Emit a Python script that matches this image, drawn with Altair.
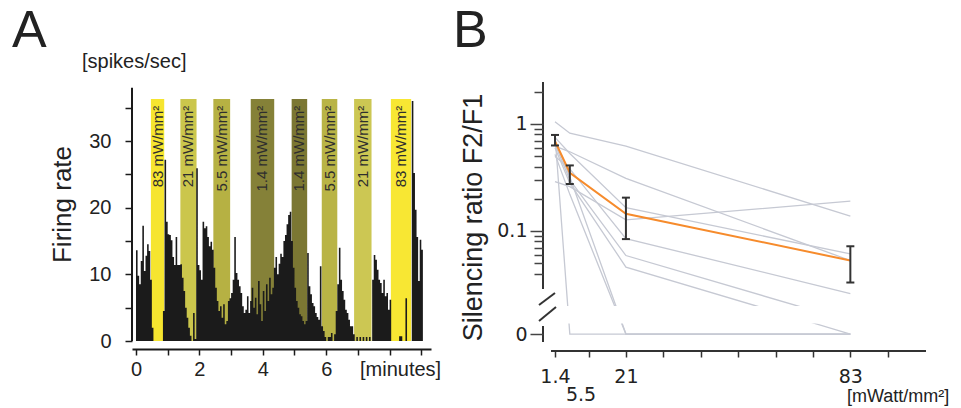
import altair as alt
import pandas as pd
import numpy as np

# ---------------- Panel A: firing-rate histogram ----------------
BIN_WIDTH = 0.05  # minutes per bin
FIRING_RATE = [
    13.6, 9.8, 8.5, 12.0, 17.3, 10.5, 12.8, 14.5, 13.5, 9.2,
    2.0, 0, 0, 0, 0, 0, 0, 4.5,
    27.2, 17.9, 16.0, 15.9, 15.1, 12.6, 11.4, 15.6, 11.4, 11.4,
    11.5, 9.5, 7.5, 5.0, 3.5, 2.0, 0.8, 0, 4.2, 0.3,
    25.9, 11.4, 10.6, 9.2, 17.9, 16.9, 17.2, 15.6, 14.2, 14.9, 13.7,
    11.0, 8.0, 6.0, 4.5, 5.2, 3.5, 5.5, 2.5, 3.0, 6.0,
    6.4, 7.2, 9.2, 15.6, 10.2, 9.2, 8.2, 7.2, 5.2, 4.2, 4.7, 6.7, 4.2,
    6.0, 8.0, 5.0, 6.5, 4.0, 9.0, 5.5, 3.0, 7.5, 4.5, 8.5, 6.0, 9.5, 7.0, 8.0,
    11.0, 12.6, 10.0, 11.6, 13.1, 12.6, 15.0, 15.9, 17.5, 18.9, 19.4,
    15.0, 11.0, 8.0, 6.0, 5.0, 4.0, 3.7, 3.0, 2.5, 3.0,
    13.2, 8.2, 7.0, 5.7, 5.2, 4.2, 3.6, 3.2, 11.2, 2.2,
    1.5, 0.6, 0, 0.6, 0.6, 1.2, 0, 1.0, 4.5,
    8.5, 14.0, 9.2, 7.5, 6.2, 4.7, 4.2, 3.2, 2.2, 2.2, 1.0,
    0, 0.6, 0, 0.6, 0, 0.6, 0, 0.6, 0, 0.6, 0,
    9.2, 12.9, 12.2, 10.7, 9.2, 8.7, 7.2, 9.2, 6.7, 7.2, 4.7, 6.2,
    0, 0, 0, 0, 0, 0.7, 0.7, 0, 0, 6.4, 0, 0, 0,
    36.0, 25.2, 19.7, 15.6, 9.0, 15.2, 13.7,
]
BAND_START = [0.47, 1.40, 2.44, 3.62, 4.91, 5.86, 6.88, 8.04]
BAND_END = [0.89, 1.91, 2.97, 4.36, 5.40, 6.35, 7.43, 8.68]
BAND_LABEL = ["83 mW/mm²", "21 mW/mm²", "5.5 mW/mm²", "1.4 mW/mm²",
              "1.4 mW/mm²", "5.5 mW/mm²", "21 mW/mm²", "83 mW/mm²"]
BAND_COLOR = ["#f6e52f", "#cbc64c", "#b6b143", "#858138",
              "#7b7733", "#b9b446", "#ccc753", "#f8e733"]
BAND_TOP = 36.3
A_X_TICKS = [0, 1, 2, 3, 4, 5, 6, 7, 8, 9]
A_Y_TICKS = [0, 5, 10, 15, 20, 25, 30, 35]

# ---------------- Panel B: silencing ratio ----------------
INTENSITY = [1.4, 5.5, 21, 83]
CELL_RATIOS = [
    [1.05, 0.82, 0.62, 0.138],
    [0.62, 0.55, 0.31, 0.053],
    [0.75, 0.53, 0.165, 0.061],
    [0.29, 0.26, 0.127, 0.19],
    [0.50, 0.38, 0.085, 0.026],
    [0.65, 0.30, 0.059, 0.0143],
    [0.60, 0.28, 0.046, 0.0],
    [0.70, 0.32, 0.0, 0.0],
    [0.52, 0.22, 0.0, 0.0],
    [0.79, 0.0, 0.0, 0.0],
]
MEAN_RATIO = [0.69, 0.35, 0.145, 0.053]
ERR_LO = [0.63, 0.275, 0.084, 0.033]
ERR_HI = [0.79, 0.41, 0.205, 0.072]
B_X_TICKS = [1.4, 10.67, 21, 31.33, 41.67, 52, 62.33, 72.67, 83, 93.33]
B_Y_TICK_VALUES = [2, 1, 0.9, 0.8, 0.7, 0.6, 0.5, 0.4, 0.3, 0.2,
                   0.1, 0.09, 0.08, 0.07, 0.06, 0.05, 0.04]
ZERO_POS = -1.963  # where "0" sits below the axis break (log10 units)

# ---------------- build tables ----------------
t = [i * BIN_WIDTH for i in range(len(FIRING_RATE))]
hist = pd.DataFrame({"t": t + [len(FIRING_RATE) * BIN_WIDTH],
                     "rate": FIRING_RATE + [FIRING_RATE[-1]]})
bands = pd.DataFrame({"start": BAND_START, "end": BAND_END,
                      "label": BAND_LABEL, "color": BAND_COLOR})
bands["mid"] = (bands["start"] + bands["end"]) / 2
bands["bottom"] = 0.0
bands["top"] = BAND_TOP
bands["labtop"] = 35.3


def to_pos(v):
    return float(np.log10(v)) if v > 0 else ZERO_POS


rows = []
for ci, cell in enumerate(CELL_RATIOS):
    for x, v in zip(INTENSITY, cell):
        rows.append({"cell": ci, "x": x, "y": to_pos(v)})
cells = pd.DataFrame(rows)
mean = pd.DataFrame({"x": INTENSITY,
                     "y": [to_pos(v) for v in MEAN_RATIO],
                     "lo": [to_pos(v) for v in ERR_LO],
                     "hi": [to_pos(v) for v in ERR_HI]})

TXT = "#222222"
AX = "#1a1a1a"
one = alt.Data(values=[{}])


def note(text, x, y, size, font="Liberation Sans", align="left",
         baseline="middle"):
    return alt.Chart(one).mark_text(
        text=text, align=align, baseline=baseline, fontSize=size,
        font=font, color=TXT).encode(x=alt.value(x), y=alt.value(y))


def seg(x, y, x2, y2, w=2, color="#333333"):
    return alt.Chart(one).mark_rule(color=color, strokeWidth=w).encode(
        x=alt.value(x), y=alt.value(y), x2=alt.value(x2), y2=alt.value(y2))


# ---------------- Panel A ----------------
AW, AH = 299, 269
xsA = alt.Scale(domain=[-0.126, 9.306], nice=False, zero=False)
ysA = alt.Scale(domain=[-1.5, 38.85], nice=False, zero=False)
axA_x = alt.Axis(values=A_X_TICKS, title=None, offset=-2, zindex=1,
                 labelExpr="datum.value <= 6 && datum.value % 2 == 0 ? datum.label : ''",
                 labelFont="Liberation Sans", labelFontSize=20, labelColor=TXT,
                 labelPadding=4, tickSize=6, tickWidth=1.5, tickColor=AX,
                 domainColor=AX, domainWidth=2, labelOverlap=False, labelFlush=False)
axA_y = alt.Axis(values=A_Y_TICKS, title="Firing rate", domain=False, zindex=1,
                 labelExpr="datum.value % 10 == 0 ? datum.label : ''",
                 labelFont="Liberation Sans", labelFontSize=20, labelColor=TXT,
                 labelPadding=14, tickSize=7, tickWidth=1.5, tickColor=AX,
                 titleFont="Liberation Sans", titleFontSize=26, titleFontWeight="normal",
                 titleColor=TXT, titleX=-70, titleY=122, titleAngle=270,
                 titleAlign="center", titleBaseline="middle", labelOverlap=False)


def XA(f):
    return alt.X(f, type="quantitative", scale=xsA, axis=axA_x)


def YA(f):
    return alt.Y(f, type="quantitative", scale=ysA, axis=axA_y)


boundsA = alt.Chart(one).mark_rect(color="white", opacity=0, strokeWidth=0).encode(
    x=alt.value(-132), x2=alt.value(829), y=alt.value(-82), y2=alt.value(326))

bandsA = alt.Chart(bands).mark_rect().encode(
    x=XA("start"), x2="end", y=YA("bottom"), y2="top",
    color=alt.Color("color:N", scale=None),
)
histA = alt.Chart(hist).mark_area(interpolate="step-after", color="#1b1b1b").encode(
    x=XA("t"), y=YA("rate"),
)
labelsA = alt.Chart(bands).mark_text(
    angle=270, align="right", baseline="middle", fontSize=15,
    font="Liberation Sans", color="#2e2e2e").encode(
    x=XA("mid"), y=YA("labtop"), text="label:N",
)
yLineA = alt.Chart(pd.DataFrame({"lo": [0.0], "hi": [38.0]})).mark_rule(
    color=AX, strokeWidth=2).encode(x=alt.value(0), y=YA("lo"), y2="hi")

chartA = alt.layer(
    bandsA, histA, labelsA, yLineA, boundsA,
    note("A", -120, -35, 52, baseline="alphabetic"),
    note("[spikes/sec]", -50, -20, 20),
    note("[minutes]", 228, 288, 20),
).properties(width=AW, height=AH)

# ---------------- Panel B ----------------
BW, BH = 383, 269
xsB = alt.Scale(domain=[-1.91, 103.9], nice=False, zero=False)
ysB = alt.Scale(domain=[-2.1215, 0.3925], nice=False, zero=False)
ytick_pos = [float(np.log10(v)) for v in B_Y_TICK_VALUES] + [ZERO_POS]
major = "abs(datum.value) < 1e-6 || abs(datum.value + 1) < 1e-6 || datum.value < -1.9"
axB_x = alt.Axis(values=B_X_TICKS, title=None, domain=False, zindex=1,
                 labelExpr="datum.value == 1.4 ? '1.4' : datum.value == 21 ? '21' : datum.value == 83 ? '83' : ''",
                 labelFont="DejaVu Sans", labelFontSize=19, labelColor=TXT,
                 labelPadding=10, tickSize=6, tickWidth=1.5, tickColor="#333333",
                 labelOverlap=False, labelFlush=False)
axB_y = alt.Axis(values=ytick_pos, title="Silencing ratio F2/F1", domain=False, zindex=1,
                 labelExpr="abs(datum.value) < 1e-6 ? '1' : abs(datum.value + 1) < 1e-6 ? '0.1' : datum.value < -1.9 ? '0' : ''",
                 labelFont="DejaVu Sans", labelFontSize=19, labelColor=TXT,
                 labelPadding=3,
                 tickSize={"condition": {"test": major, "value": 13}, "value": 9},
                 tickWidth=1.5, tickColor="#444444",
                 titleFont="Liberation Sans", titleFontSize=27, titleFontWeight="normal",
                 titleColor=TXT, titleX=-70, titleY=135, titleAngle=270,
                 titleAlign="center", titleBaseline="middle", labelOverlap=False)


def XB(f):
    return alt.X(f, type="quantitative", scale=xsB, axis=axB_x)


def YB(f):
    return alt.Y(f, type="quantitative", scale=ysB, axis=axB_y)


linesB = alt.Chart(cells).mark_line(color="#c6c9d3", strokeWidth=1.3).encode(
    x=XB("x"), y=YB("y"), detail="cell:N",
)
maskB = alt.Chart(pd.DataFrame({"x": [0.3], "x2": [103.9], "y": [-1.70], "y2": [-1.865]})
                  ).mark_rect(color="white").encode(
    x=XB("x"), x2="x2", y=YB("y"), y2="y2")
meanB = alt.Chart(mean).mark_line(color="#f68b2c", strokeWidth=2).encode(
    x=XB("x"), y=YB("y"),
)
errB = alt.Chart(mean).mark_rule(color="#333333", strokeWidth=2).encode(
    x=XB("x"), y=YB("lo"), y2="hi",
)
capLo = alt.Chart(mean).mark_rule(color="#333333", strokeWidth=2,
                                  xOffset=-4, x2Offset=4).encode(
    x=XB("x"), x2="x", y=YB("lo"))
capHi = alt.Chart(mean).mark_rule(color="#333333", strokeWidth=2,
                                  xOffset=-4, x2Offset=4).encode(
    x=XB("x"), x2="x", y=YB("hi"))
yLineB = alt.Chart(pd.DataFrame({"y": [0.3925, -1.888], "y2": [-1.542, -2.037]})
                   ).mark_rule(color="#333333", strokeWidth=2).encode(
    x=alt.value(0), y=YB("y"), y2="y2")
xLineB = alt.Chart(pd.DataFrame({"x": [0.3], "x2": [103.9]})
                   ).mark_rule(color="#333333", strokeWidth=2).encode(
    x=XB("x"), x2="x2", y=alt.value(BH))

chartB = alt.layer(
    linesB, maskB, meanB, errB, capLo, capHi, yLineB, xLineB,
    seg(-4, 223, 12, 211), seg(-4, 239, 13, 225),
    note("B", -90, -35, 52, baseline="alphabetic"),
    note("5.5", 38, 313, 19, font="DejaVu Sans", align="center"),
    note("[mWatt/mm²]", 304, 315, 18),
).properties(width=BW, height=BH)

chart = alt.hconcat(chartA, chartB, spacing=112, bounds="flush").properties(
    padding=0, autosize=alt.AutoSizeParams(type="pad")
).configure_view(stroke=None).configure_axis(grid=False)

chart.save("out.html", embed_options={"renderer": "svg", "actions": False})
